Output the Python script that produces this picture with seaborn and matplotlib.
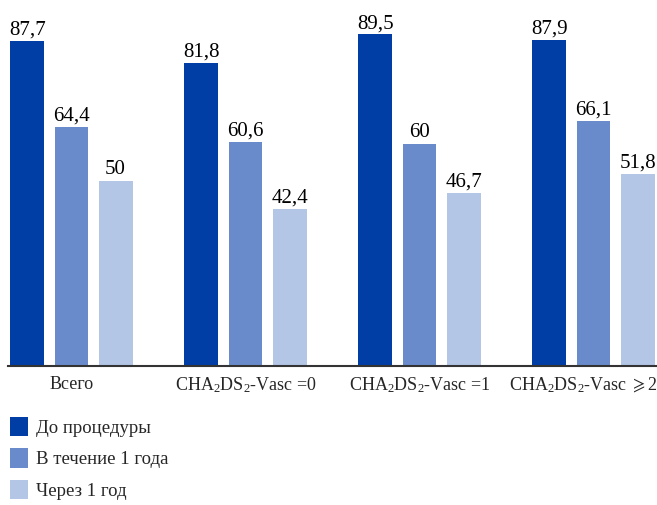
import matplotlib
matplotlib.use("Agg")
import matplotlib.pyplot as plt
import matplotlib.transforms as mtransforms
import seaborn as sns
import pandas as pd
from matplotlib.patches import Patch

categories = ["Всего", "CHA$_2$DS$_2$-Vasc =0", "CHA$_2$DS$_2$-Vasc =1", "CHA$_2$DS$_2$-Vasc ${\\geqslant}$2"]
series_names = ["До процедуры", "В течение 1 года", "Через 1 год"]
before = [87.7, 81.8, 89.5, 87.9]
within_year = [64.4, 60.6, 60.0, 66.1]
after_year = [50.0, 42.4, 46.7, 51.8]
colors = ["#003da5", "#6a8bcb", "#b3c6e6"]

sns.set_style("white")
plt.rcParams["font.family"] = ["Liberation Serif", "DejaVu Serif", "DejaVu Sans"]
plt.rcParams["mathtext.fontset"] = "custom"
plt.rcParams["mathtext.rm"] = "Liberation Serif"
plt.rcParams["mathtext.it"] = "Liberation Serif:italic"
plt.rcParams["mathtext.bf"] = "Liberation Serif:bold"
plt.rcParams["mathtext.fallback"] = "stix"

rows = []
for name, vals in zip(series_names, [before, within_year, after_year]):
    for c, v in zip(categories, vals):
        rows.append({"cat": c, "series": name, "value": v})
df = pd.DataFrame(rows)

fig = plt.figure(figsize=(6.57, 5.05), dpi=100)
ax = fig.add_axes([8 / 657, 139 / 505, 649 / 657, 366 / 505])
sns.barplot(data=df, x="cat", y="value", hue="series", order=categories,
            hue_order=series_names, palette=colors, width=0.76, gap=0.23,
            saturation=1, linewidth=0, errorbar=None, ax=ax, legend=False)

for cont in ax.containers:
    labels = [f"{b.get_height():g}".replace(".", ",") for b in cont]
    ax.bar_label(cont, labels=labels, padding=1, fontsize=15, color="black")

ax.set_ylim(0, 98.8)
ax.set_xlim(-0.365, 3.365)
ax.set_xlabel("")
ax.set_ylabel("")
ax.set_yticks([])
ax.tick_params(axis="x", length=0, pad=7, labelsize=13)
for s in ["left", "top", "right"]:
    ax.spines[s].set_visible(False)
ax.spines["bottom"].set_color("#333333")
ax.spines["bottom"].set_linewidth(1.5)

last = ax.get_xticklabels()[-1]
last.set_transform(last.get_transform() + mtransforms.ScaledTranslation(-10 / 100, 0, fig.dpi_scale_trans))

handles = [Patch(facecolor=c, edgecolor="none") for c in colors]
fig.legend(handles, series_names, loc="upper left",
           bbox_to_anchor=(10 / 657, 1 - 417 / 505), frameon=False,
           fontsize=13.5, handlelength=0.97, handleheight=1.22,
           handletextpad=0.4, labelspacing=0.6, borderpad=0, borderaxespad=0)

fig.savefig("out.png", dpi=100)
